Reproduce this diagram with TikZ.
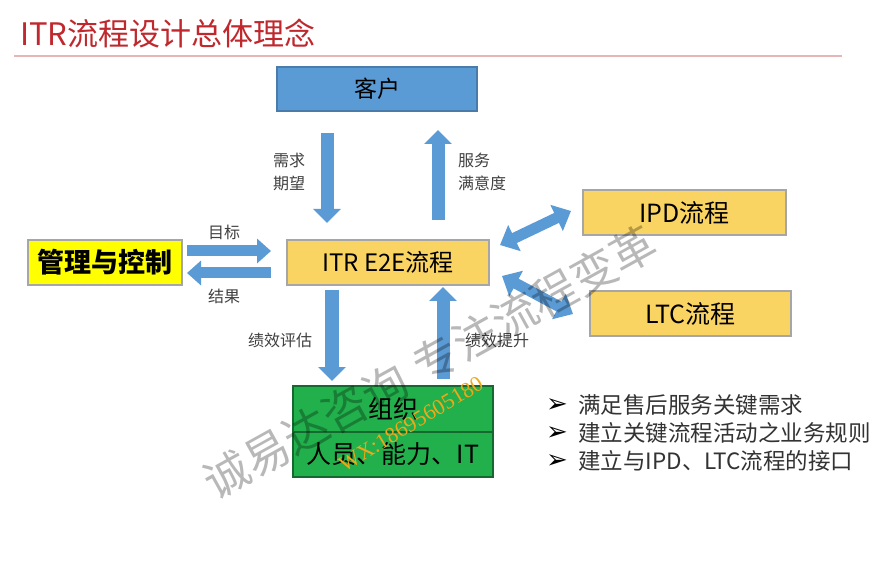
\documentclass[tikz,border=0pt]{standalone}
\usepackage{fontspec}
\setmainfont{Noto Sans CJK SC}
\newfontfamily\cjk{Noto Sans CJK SC}
\newfontfamily\dejavu{DejaVu Sans}
\newfontfamily\serifw{Liberation Serif}
\usetikzlibrary{arrows.meta}
\definecolor{arrowblue}{HTML}{5B9BD5}
\definecolor{boxgold}{HTML}{FAD462}
\definecolor{boxyellow}{HTML}{FFFF00}
\definecolor{boxgreen}{HTML}{22B04C}
\definecolor{titlered}{HTML}{C0282D}
\definecolor{labelgray}{HTML}{404040}
\definecolor{bulletgray}{HTML}{333333}
\definecolor{wmorange}{HTML}{F0A818}
\tikzset{
  box/.style={draw=#1, line width=1.2pt, inner sep=0pt, text=black},
  box/.default={black!35},
  blk/.style={draw=arrowblue, line width=13pt, -{Triangle[width=27pt,length=14pt]}},
  dblk/.style={draw=arrowblue, line width=11pt, {Triangle[width=28pt,length=16pt]}-{Triangle[width=28pt,length=16pt]}},
  lbl/.style={text=labelgray, font=\fontsize{16}{23}\selectfont, inner sep=0pt},
  bul/.style={text=bulletgray, font=\fontsize{22.5}{26}\selectfont, inner sep=0pt, anchor=west},
  bmark/.style={text=black, font=\dejavu\bfseries\fontsize{26}{26}\selectfont, inner sep=0pt},
}
\begin{document}
\begin{tikzpicture}[x=1pt,y=-1pt]
\useasboundingbox (0,0) rectangle (894,561);
\fill[white] (0,0) rectangle (894,561);
% title
\node[anchor=west, text=titlered, inner sep=0pt, font=\fontsize{31}{34}\selectfont] (title) at (20,34) {ITR流程设计总体理念};
\draw[draw=titlered!35, line width=1.5pt] (14,56) -- (842,56);
% boxes
\node[box=arrowblue!80!black, fill=arrowblue, minimum width=200pt, minimum height=44pt, font=\fontsize{23}{24}\selectfont] (kehu) at (377,89) {客户};
\node[box, fill=boxgold, minimum width=202pt, minimum height=45pt, font=\fontsize{24}{26}\selectfont] (itr) at (388,262.5) {ITR E2E流程};
\node[box, fill=boxyellow, minimum width=154pt, minimum height=45pt, font=\bfseries\fontsize{27}{29}\selectfont] (guanli) at (105,262.5) {管理与控制};
\node[box, fill=boxgold, minimum width=203pt, minimum height=45pt, font=\fontsize{25}{27}\selectfont] (ipd) at (684.5,212.5) {IPD流程};
\node[box, fill=boxgold, minimum width=201pt, minimum height=45pt, font=\fontsize{25}{27}\selectfont] (ltc) at (690.5,313.5) {LTC流程};
\node[box=boxgreen!60!black, fill=boxgreen, minimum width=200pt, minimum height=46pt, font=\fontsize{25}{27}\selectfont] (zuzhi) at (393,409) {组织};
\node[box=boxgreen!60!black, fill=boxgreen, minimum width=200pt, minimum height=45pt, font=\fontsize{25}{27}\selectfont] (renyuan) at (393,454.5) {人员、能力、IT};
% arrow end points
\coordinate (xqA) at (327,133);  \coordinate (xqB) at (327,223);
\coordinate (fwA) at (438,220);  \coordinate (fwB) at (438,130);
\coordinate (mbA) at (187,251);  \coordinate (mbB) at (271,251);
\coordinate (jgA) at (271,273);  \coordinate (jgB) at (187,273);
\coordinate (pgA) at (332,290);  \coordinate (pgB) at (332,381);
\coordinate (tsA) at (443,379);  \coordinate (tsB) at (443,287);
\coordinate (ipA) at (500,245);  \coordinate (ipB) at (571,211);
\coordinate (ltA) at (502,276);  \coordinate (ltB) at (573,314);
% arrows
\draw[blk] (xqA) -- (xqB);
\draw[blk] (fwA) -- (fwB);
\draw[blk, line width=11pt, -{Triangle[width=24pt,length=14pt]}] (mbA) -- (mbB);
\draw[blk, line width=11pt, -{Triangle[width=24pt,length=14pt]}] (jgA) -- (jgB);
\draw[blk, line width=14pt] (pgA) -- (pgB);
\draw[blk] (tsA) -- (tsB);
\draw[dblk] (ipA) -- (ipB);
\draw[dblk] (ltA) -- (ltB);
% labels
\node[lbl, align=center] (lxq) at (289,171.5) {需求\\期望};
\node[lbl, align=left, anchor=west] (lfw) at (458,171.5) {服务\\满意度};
\node[lbl] (lmb) at (224,232) {目标};
\node[lbl] (ljg) at (224,296) {结果};
\node[lbl] (lpg) at (280,340) {绩效评估};
\node[lbl] (lts) at (497,340) {绩效提升};
% bullets
\node[bmark] (m1) at (557,406) {➢};
\node[bmark] (m2) at (557,434) {➢};
\node[bmark] (m3) at (557,462) {➢};
\node[bul] (b1) at (578,405) {满足售后服务关键需求};
\node[bul] (b2) at (578,433) {建立关键流程活动之业务规则};
\node[bul] (b3) at (578,461) {建立与IPD、LTC流程的接口};
% watermark
\node[rotate=29, text=black, opacity=0.28, inner sep=0pt, font=\fontsize{45}{45}\selectfont] (wm) at (430,362) {诚易达咨询\hspace{14pt}专注流程变革};
\node[rotate=31, text=wmorange, inner sep=0pt, font=\serifw\fontsize{22}{22}\selectfont] (wx) at (411,424) {WX:18695605180};
\end{tikzpicture}
\end{document}
